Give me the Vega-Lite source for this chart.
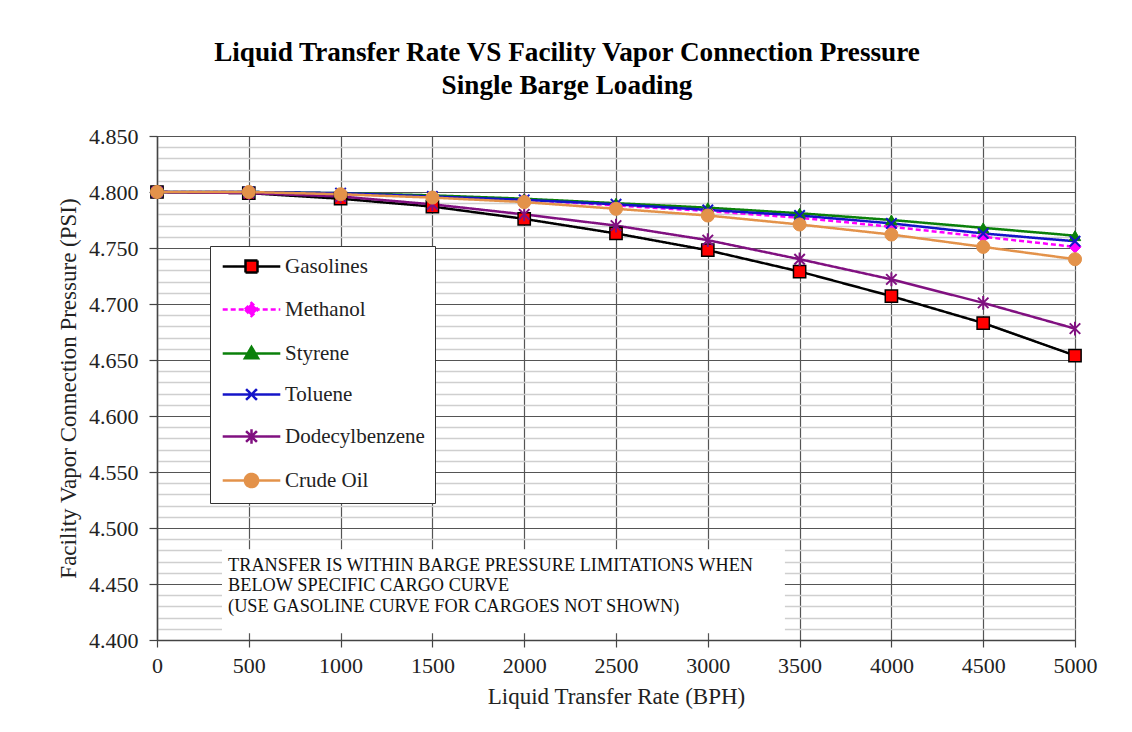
{
  "$schema": "https://vega.github.io/schema/vega-lite/v6.json",
  "width": 918,
  "height": 504,
  "autosize": {"type": "none"},
  "padding": {"left": 157, "top": 136, "right": 57, "bottom": 92},
  "background": "white",
  "title": {
    "text": ["Liquid Transfer Rate VS Facility Vapor Connection Pressure", "Single Barge Loading"],
    "font": "Liberation Serif",
    "fontSize": 27.2,
    "fontWeight": "bold",
    "color": "#000000",
    "anchor": "middle",
    "dx": -49,
    "offset": 25,
    "lineHeight": 33
  },
  "config": {
    "font": "Liberation Serif",
    "view": {"stroke": "#555555", "strokeWidth": 1},
    "axis": {
      "labelFont": "Liberation Serif",
      "labelFontSize": 22,
      "labelColor": "#222222",
      "titleFont": "Liberation Serif",
      "titleFontSize": 23,
      "titleFontWeight": "normal",
      "titleColor": "#222222",
      "domainColor": "#444444",
      "domainWidth": 1.5,
      "tickColor": "#444444",
      "tickWidth": 1.2,
      "labelOverlap": false,
      "labelFlush": false,
      "labelBound": false
    },
    "legend": {
      "orient": "none",
      "legendX": 53,
      "legendY": 110,
      "fillColor": "white",
      "strokeColor": "#333333",
      "padding": 10,
      "labelFont": "Liberation Serif",
      "labelFontSize": 21,
      "labelColor": "#222222",
      "symbolSize": 144,
      "symbolStrokeWidth": 2.5,
      "symbolOpacity": 1,
      "symbolOffset": 21,
      "labelOffset": 23,
      "rowPadding": 19
    }
  },
  "datasets": {
    "curves": [
      {"series": "Gasolines", "rate": 0, "psi": 4.800},
      {"series": "Gasolines", "rate": 500, "psi": 4.799},
      {"series": "Gasolines", "rate": 1000, "psi": 4.794},
      {"series": "Gasolines", "rate": 1500, "psi": 4.787},
      {"series": "Gasolines", "rate": 2000, "psi": 4.776},
      {"series": "Gasolines", "rate": 2500, "psi": 4.763},
      {"series": "Gasolines", "rate": 3000, "psi": 4.748},
      {"series": "Gasolines", "rate": 3500, "psi": 4.729},
      {"series": "Gasolines", "rate": 4000, "psi": 4.707},
      {"series": "Gasolines", "rate": 4500, "psi": 4.683},
      {"series": "Gasolines", "rate": 5000, "psi": 4.654},
      {"series": "Methanol", "rate": 0, "psi": 4.800},
      {"series": "Methanol", "rate": 500, "psi": 4.800},
      {"series": "Methanol", "rate": 1000, "psi": 4.798},
      {"series": "Methanol", "rate": 1500, "psi": 4.796},
      {"series": "Methanol", "rate": 2000, "psi": 4.793},
      {"series": "Methanol", "rate": 2500, "psi": 4.788},
      {"series": "Methanol", "rate": 3000, "psi": 4.783},
      {"series": "Methanol", "rate": 3500, "psi": 4.777},
      {"series": "Methanol", "rate": 4000, "psi": 4.769},
      {"series": "Methanol", "rate": 4500, "psi": 4.760},
      {"series": "Methanol", "rate": 5000, "psi": 4.751},
      {"series": "Styrene", "rate": 0, "psi": 4.800},
      {"series": "Styrene", "rate": 500, "psi": 4.800},
      {"series": "Styrene", "rate": 1000, "psi": 4.799},
      {"series": "Styrene", "rate": 1500, "psi": 4.797},
      {"series": "Styrene", "rate": 2000, "psi": 4.794},
      {"series": "Styrene", "rate": 2500, "psi": 4.790},
      {"series": "Styrene", "rate": 3000, "psi": 4.786},
      {"series": "Styrene", "rate": 3500, "psi": 4.781},
      {"series": "Styrene", "rate": 4000, "psi": 4.775},
      {"series": "Styrene", "rate": 4500, "psi": 4.768},
      {"series": "Styrene", "rate": 5000, "psi": 4.761},
      {"series": "Toluene", "rate": 0, "psi": 4.800},
      {"series": "Toluene", "rate": 500, "psi": 4.800},
      {"series": "Toluene", "rate": 1000, "psi": 4.799},
      {"series": "Toluene", "rate": 1500, "psi": 4.796},
      {"series": "Toluene", "rate": 2000, "psi": 4.793},
      {"series": "Toluene", "rate": 2500, "psi": 4.789},
      {"series": "Toluene", "rate": 3000, "psi": 4.784},
      {"series": "Toluene", "rate": 3500, "psi": 4.779},
      {"series": "Toluene", "rate": 4000, "psi": 4.772},
      {"series": "Toluene", "rate": 4500, "psi": 4.763},
      {"series": "Toluene", "rate": 5000, "psi": 4.756},
      {"series": "Dodecylbenzene", "rate": 0, "psi": 4.800},
      {"series": "Dodecylbenzene", "rate": 500, "psi": 4.799},
      {"series": "Dodecylbenzene", "rate": 1000, "psi": 4.796},
      {"series": "Dodecylbenzene", "rate": 1500, "psi": 4.789},
      {"series": "Dodecylbenzene", "rate": 2000, "psi": 4.780},
      {"series": "Dodecylbenzene", "rate": 2500, "psi": 4.770},
      {"series": "Dodecylbenzene", "rate": 3000, "psi": 4.757},
      {"series": "Dodecylbenzene", "rate": 3500, "psi": 4.740},
      {"series": "Dodecylbenzene", "rate": 4000, "psi": 4.722},
      {"series": "Dodecylbenzene", "rate": 4500, "psi": 4.701},
      {"series": "Dodecylbenzene", "rate": 5000, "psi": 4.678},
      {"series": "Crude Oil", "rate": 0, "psi": 4.800},
      {"series": "Crude Oil", "rate": 500, "psi": 4.800},
      {"series": "Crude Oil", "rate": 1000, "psi": 4.798},
      {"series": "Crude Oil", "rate": 1500, "psi": 4.795},
      {"series": "Crude Oil", "rate": 2000, "psi": 4.791},
      {"series": "Crude Oil", "rate": 2500, "psi": 4.785},
      {"series": "Crude Oil", "rate": 3000, "psi": 4.779},
      {"series": "Crude Oil", "rate": 3500, "psi": 4.771},
      {"series": "Crude Oil", "rate": 4000, "psi": 4.762},
      {"series": "Crude Oil", "rate": 4500, "psi": 4.751},
      {"series": "Crude Oil", "rate": 5000, "psi": 4.740}
    ],
    "notebox": [{"rate": 354, "rate2": 3420, "psi": 4.406, "psi2": 4.481}],
    "notetext": [{"rate": 387, "psi": 4.4743, "lines": ["TRANSFER IS WITHIN BARGE PRESSURE LIMITATIONS WHEN", "BELOW SPECIFIC CARGO CURVE", "(USE GASOLINE CURVE FOR CARGOES NOT SHOWN)"]}]
  },
  "layer": [
    {
      "data": {"name": "curves"},
      "mark": {"type": "line", "strokeWidth": 2.5},
      "encoding": {
        "x": {
          "field": "rate", "type": "quantitative",
          "scale": {"domain": [0, 5000], "nice": false},
          "axis": {
            "title": "Liquid Transfer Rate (BPH)",
            "values": [0, 500, 1000, 1500, 2000, 2500, 3000, 3500, 4000, 4500, 5000],
            "tickCount": 100,
            "format": "d",
            "grid": true, "gridColor": "#555555", "gridWidth": 1.2,
            "tickSize": 7, "labelPadding": 8, "titlePadding": 9
          }
        },
        "y": {
          "field": "psi", "type": "quantitative",
          "scale": {"domain": [4.4, 4.85], "nice": false, "zero": false},
          "axis": {
            "title": "Facility Vapor Connection Pressure (PSI)",
            "values": [4.40, 4.41, 4.42, 4.43, 4.44, 4.45, 4.46, 4.47, 4.48, 4.49, 4.50, 4.51, 4.52, 4.53, 4.54, 4.55, 4.56, 4.57, 4.58, 4.59, 4.60, 4.61, 4.62, 4.63, 4.64, 4.65, 4.66, 4.67, 4.68, 4.69, 4.70, 4.71, 4.72, 4.73, 4.74, 4.75, 4.76, 4.77, 4.78, 4.79, 4.80, 4.81, 4.82, 4.83, 4.84, 4.85],
            "tickCount": 100,
            "labelExpr": "round(datum.value*100) % 5 == 0 ? format(datum.value, '.3f') : ''",
            "grid": true,
            "gridColor": {"condition": {"test": "round(datum.value*100) % 5 == 0", "value": "#555555"}, "value": "#cfcfcf"},
            "gridWidth": {"condition": {"test": "round(datum.value*100) % 5 == 0", "value": 1.2}, "value": 1.6},
            "tickSize": {"condition": {"test": "round(datum.value*100) % 5 == 0", "value": 8}, "value": 0},
            "labelPadding": 11, "titlePadding": 8
          }
        },
        "stroke": {
          "field": "series", "type": "nominal",
          "scale": {"domain": ["Gasolines", "Methanol", "Styrene", "Toluene", "Dodecylbenzene", "Crude Oil"], "range": ["#000000", "#ff00ff", "#0a800a", "#1414c8", "#801080", "#e3924a"]},
          "legend": {"title": null}
        },
        "strokeDash": {
          "field": "series", "type": "nominal",
          "scale": {"domain": ["Gasolines", "Methanol", "Styrene", "Toluene", "Dodecylbenzene", "Crude Oil"], "range": [[1, 0], [5, 3], [1, 0], [1, 0], [1, 0], [1, 0]]},
          "legend": {"title": null}
        }
      }
    },
    {
      "data": {"name": "notebox"},
      "mark": {"type": "rect", "fill": "white", "strokeWidth": 0},
      "encoding": {
        "x": {"field": "rate", "type": "quantitative", "scale": {"domain": [0, 5000], "nice": false}},
        "x2": {"field": "rate2"},
        "y": {"field": "psi", "type": "quantitative", "scale": {"domain": [4.4, 4.85], "nice": false, "zero": false}},
        "y2": {"field": "psi2"}
      }
    },
    {
      "data": {"name": "notetext"},
      "mark": {"type": "text", "align": "left", "baseline": "top", "font": "Liberation Serif", "fontSize": 18.3, "lineHeight": 20.5, "color": "#111111"},
      "encoding": {
        "x": {"field": "rate", "type": "quantitative", "scale": {"domain": [0, 5000], "nice": false}},
        "y": {"field": "psi", "type": "quantitative", "scale": {"domain": [4.4, 4.85], "nice": false, "zero": false}},
        "text": {"field": "lines"}
      }
    },
    {
      "data": {"name": "curves"},
      "mark": {"type": "point", "opacity": 0},
      "encoding": {
        "x": {"field": "rate", "type": "quantitative", "scale": {"domain": [0, 5000], "nice": false}},
        "y": {"field": "psi", "type": "quantitative", "scale": {"domain": [4.4, 4.85], "nice": false, "zero": false}},
        "shape": {
          "field": "series", "type": "nominal",
          "scale": {"domain": ["Gasolines", "Methanol", "Styrene", "Toluene", "Dodecylbenzene", "Crude Oil"], "range": ["M-4.8,0L-1,0M1,0L4.8,0M-1,-1L1,-1L1,1L-1,1Z", "M-4.8,0L4.8,0M-1.1,0L0,-1.1L1.1,0L0,1.1Z", "M-4.8,0L4.8,0M0,-1.1L1.1,0.8L-1.1,0.8Z", "M-4.8,0L4.8,0M-0.9,-0.9L0.9,0.9M-0.9,0.9L0.9,-0.9", "M-4.8,0L4.8,0M-0.9,-0.9L0.9,0.9M-0.9,0.9L0.9,-0.9M0,-1.2L0,1.2", "M-4.8,0L4.8,0M-1.1,0A1.1,1.1,0,1,0,1.1,0A1.1,1.1,0,1,0,-1.1,0Z"]},
          "legend": {"title": null}
        },
        "fill": {
          "field": "series", "type": "nominal",
          "scale": {"domain": ["Gasolines", "Methanol", "Styrene", "Toluene", "Dodecylbenzene", "Crude Oil"], "range": ["#ff0000", "#ff00ff", "#0a800a", "#1414c8", "#801080", "#e3924a"]},
          "legend": {"title": null}
        },
        "stroke": {
          "field": "series", "type": "nominal",
          "scale": {"domain": ["Gasolines", "Methanol", "Styrene", "Toluene", "Dodecylbenzene", "Crude Oil"], "range": ["#000000", "#ff00ff", "#0a800a", "#1414c8", "#801080", "#e3924a"]},
          "legend": {"title": null}
        }
      }
    },
    {
      "data": {"name": "curves"},
      "transform": [{"filter": "datum.series == 'Gasolines'"}],
      "mark": {"type": "point", "shape": "square", "size": 150, "fill": "#ff0000", "stroke": "#000000", "strokeWidth": 1.5, "opacity": 1},
      "encoding": {
        "x": {"field": "rate", "type": "quantitative", "scale": {"domain": [0, 5000], "nice": false}},
        "y": {"field": "psi", "type": "quantitative", "scale": {"domain": [4.4, 4.85], "nice": false, "zero": false}}
      }
    },
    {
      "data": {"name": "curves"},
      "transform": [{"filter": "datum.series == 'Methanol'"}],
      "mark": {"type": "point", "shape": "diamond", "size": 150, "fill": "#ff00ff", "stroke": "#ff00ff", "strokeWidth": 1, "opacity": 1},
      "encoding": {
        "x": {"field": "rate", "type": "quantitative", "scale": {"domain": [0, 5000], "nice": false}},
        "y": {"field": "psi", "type": "quantitative", "scale": {"domain": [4.4, 4.85], "nice": false, "zero": false}}
      }
    },
    {
      "data": {"name": "curves"},
      "transform": [{"filter": "datum.series == 'Styrene'"}],
      "mark": {"type": "point", "shape": "triangle-up", "size": 130, "fill": "#0a800a", "stroke": "#0a800a", "strokeWidth": 1, "opacity": 1},
      "encoding": {
        "x": {"field": "rate", "type": "quantitative", "scale": {"domain": [0, 5000], "nice": false}},
        "y": {"field": "psi", "type": "quantitative", "scale": {"domain": [4.4, 4.85], "nice": false, "zero": false}}
      }
    },
    {
      "data": {"name": "curves"},
      "transform": [{"filter": "datum.series == 'Toluene'"}],
      "mark": {"type": "point", "shape": "M-1,-1L1,1M-1,1L1,-1", "size": 110, "filled": false, "stroke": "#1414c8", "strokeWidth": 2, "opacity": 1},
      "encoding": {
        "x": {"field": "rate", "type": "quantitative", "scale": {"domain": [0, 5000], "nice": false}},
        "y": {"field": "psi", "type": "quantitative", "scale": {"domain": [4.4, 4.85], "nice": false, "zero": false}}
      }
    },
    {
      "data": {"name": "curves"},
      "transform": [{"filter": "datum.series == 'Dodecylbenzene'"}],
      "mark": {"type": "point", "shape": "M-1,-1L1,1M-1,1L1,-1M0,-1.3L0,1.3", "size": 110, "filled": false, "stroke": "#801080", "strokeWidth": 2, "opacity": 1},
      "encoding": {
        "x": {"field": "rate", "type": "quantitative", "scale": {"domain": [0, 5000], "nice": false}},
        "y": {"field": "psi", "type": "quantitative", "scale": {"domain": [4.4, 4.85], "nice": false, "zero": false}}
      }
    },
    {
      "data": {"name": "curves"},
      "transform": [{"filter": "datum.series == 'Crude Oil'"}],
      "mark": {"type": "point", "shape": "circle", "size": 170, "fill": "#e3924a", "stroke": "#e3924a", "strokeWidth": 1, "opacity": 1},
      "encoding": {
        "x": {"field": "rate", "type": "quantitative", "scale": {"domain": [0, 5000], "nice": false}},
        "y": {"field": "psi", "type": "quantitative", "scale": {"domain": [4.4, 4.85], "nice": false, "zero": false}}
      }
    }
  ]
}
